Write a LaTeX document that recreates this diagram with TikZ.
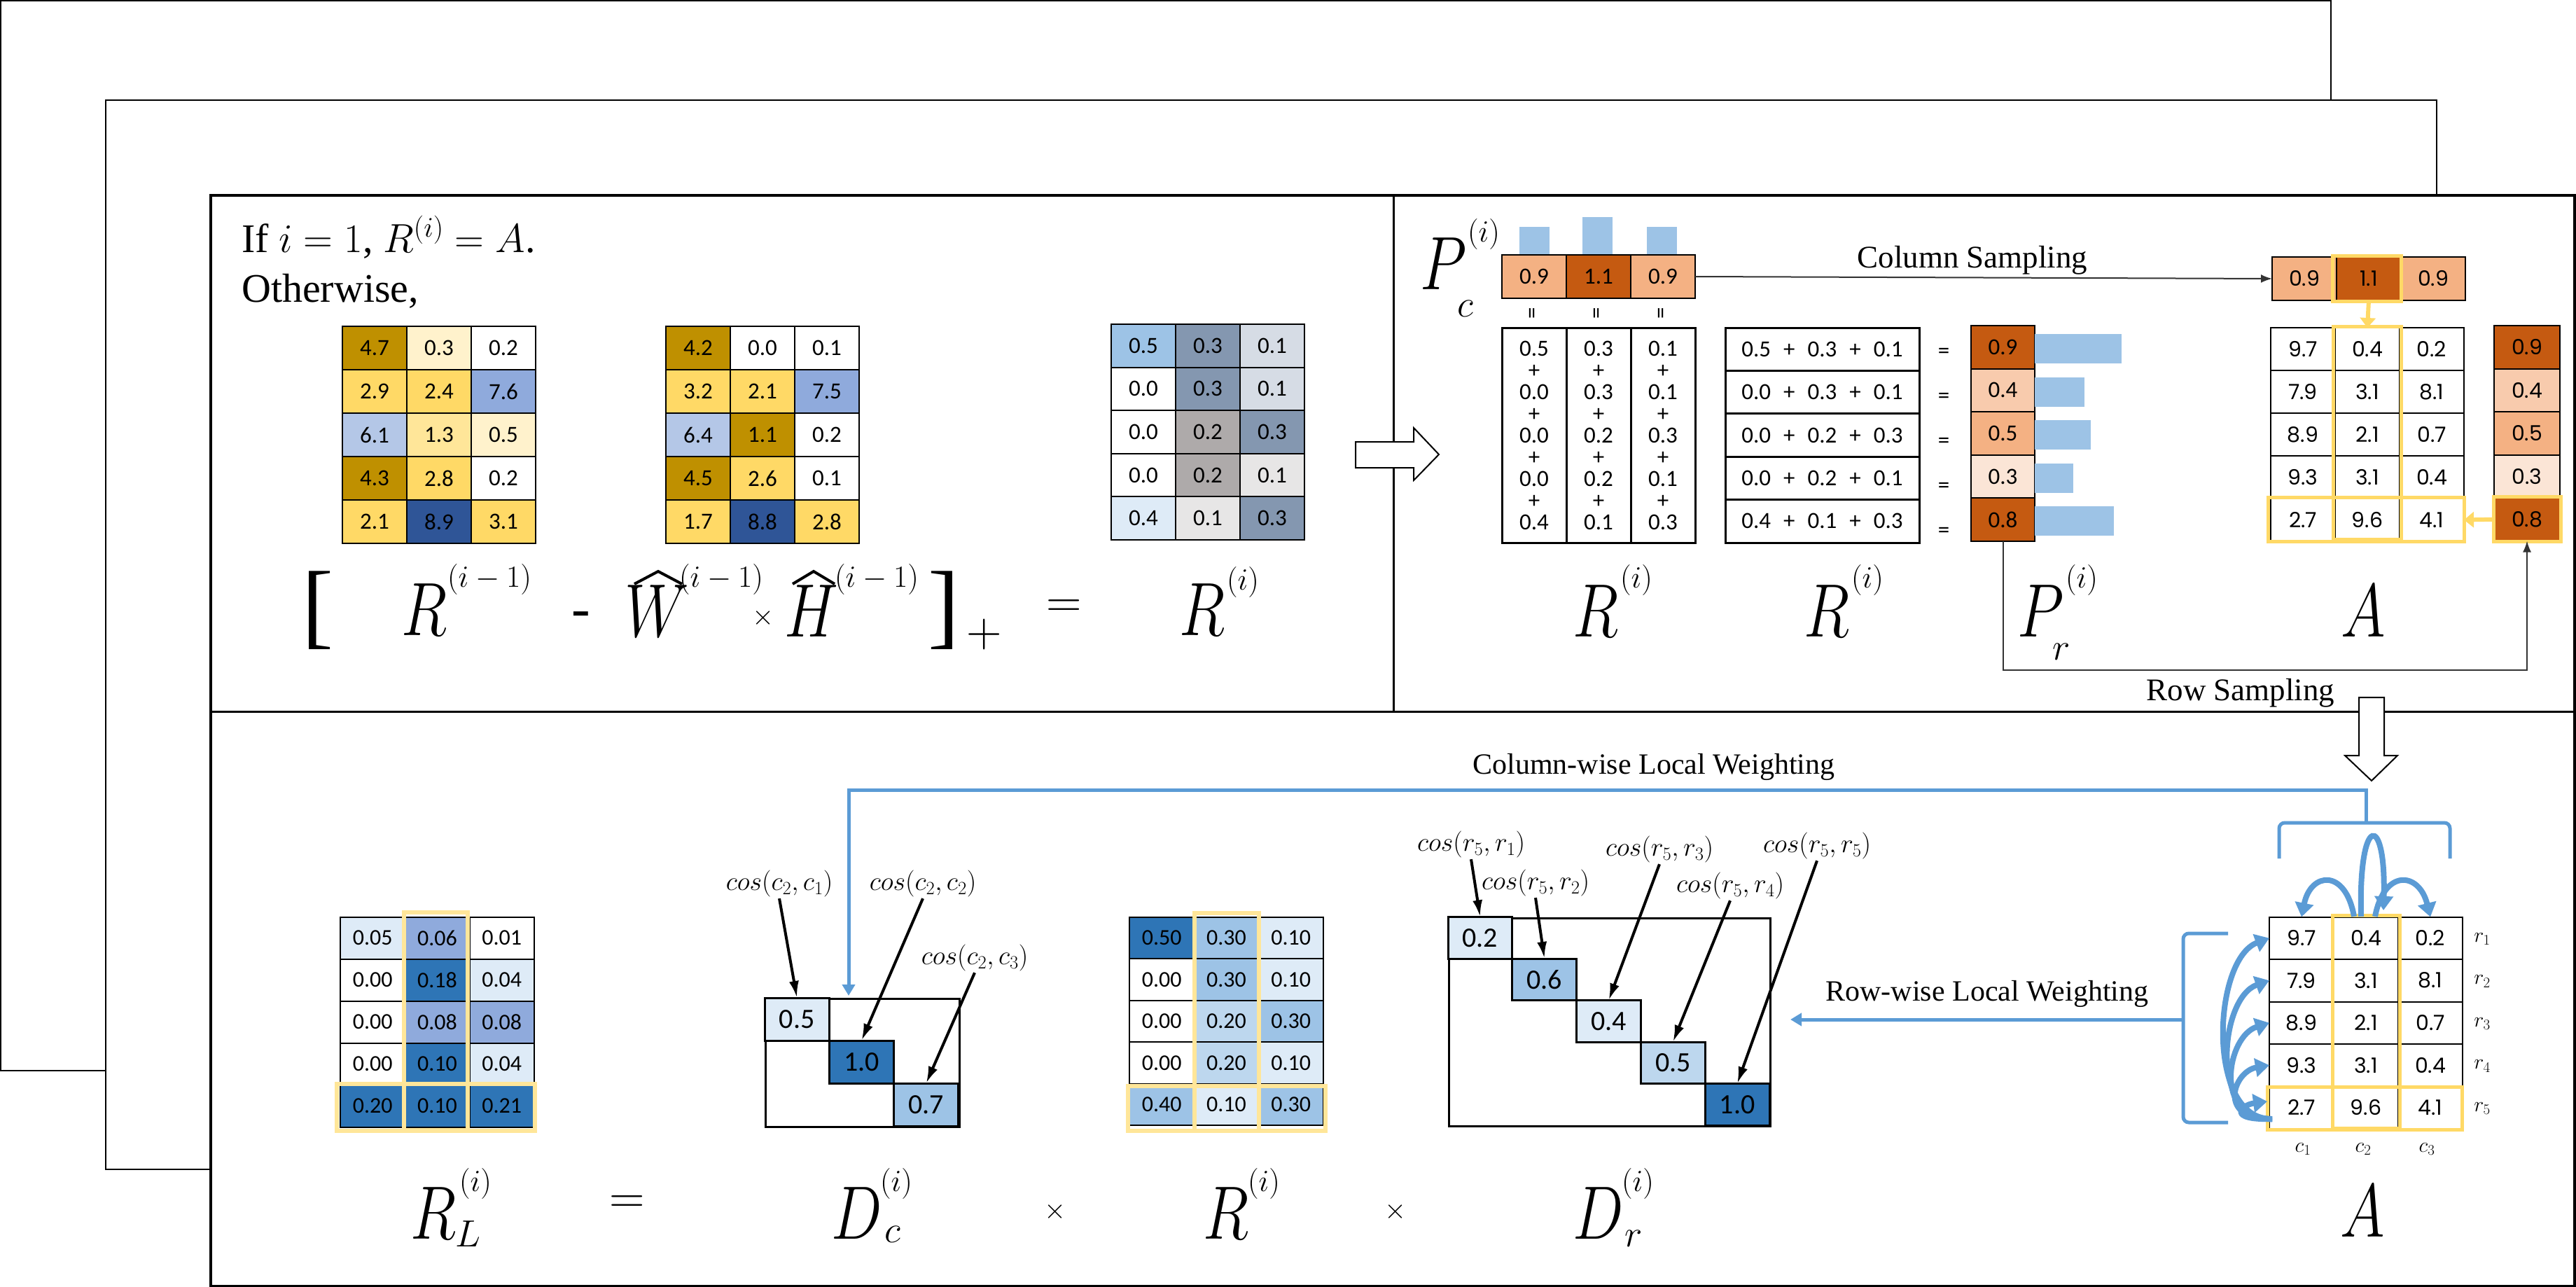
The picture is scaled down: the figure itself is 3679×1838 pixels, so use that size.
\RequirePackage{fix-cm}
\documentclass[tikz,border=0pt]{standalone}
\usepackage{fontspec}
\setmainfont{Liberation Serif}
\newfontfamily\calib{Carlito}
\newfontfamily\popp{Poppins}
\usetikzlibrary{arrows.meta}
\definecolor{cGold}{HTML}{BF9000}
\definecolor{cYel}{HTML}{FFD966}
\definecolor{cCream}{HTML}{FFF2CC}
\definecolor{cLYel}{HTML}{FFE699}
\definecolor{cBE}{HTML}{8FAADC}
\definecolor{cBF}{HTML}{B4C7E7}
\definecolor{cDB}{HTML}{2F5597}
\definecolor{cSky}{HTML}{9DC3E6}
\definecolor{cSlate}{HTML}{8497B0}
\definecolor{cGB}{HTML}{D6DCE5}
\definecolor{cGr}{HTML}{AEAAAA}
\definecolor{cLG}{HTML}{E7E6E6}
\definecolor{cPale}{HTML}{DEEBF7}
\definecolor{cMid}{HTML}{2E75B6}
\definecolor{cLight}{HTML}{BDD7EE}
\definecolor{cOa}{HTML}{F4B183}
\definecolor{cOb}{HTML}{C55A11}
\definecolor{cOc}{HTML}{F8CBAD}
\definecolor{cOd}{HTML}{FBE5D6}
\definecolor{cBL}{HTML}{5B9BD5}
\definecolor{cHL}{HTML}{FFD966}
\definecolor{cHLb}{HTML}{FFE699}
\newcommand{\calnum}{\calib\fontsize{33}{36}\selectfont}
\newcommand{\calbig}{\calib\fontsize{40}{44}\selectfont}
\newcommand{\popnum}{\popp\fontsize{30}{34}\selectfont}
\newcommand{\nx}[1]{\scalebox{0.8}[1]{$#1$}}
\newcommand{\cellgrid}[7]{%
  \foreach \r/\c/\f/\t in {#7} {%
    \node[cellbox, #6, minimum width=#4pt, minimum height=#5pt, fill=\f] (#1-\r-\c) at ({#2+(\c-1)*#4},{#3+(\r-1)*#5}) {\t};
  }}
\newcommand{\pls}{\hspace{18pt}+\hspace{18pt}}
\begin{document}
\begin{tikzpicture}[x=1pt,y=-1pt,
  cellbox/.style={draw=black, line width=2pt, inner sep=0pt, outer sep=0pt, anchor=north west},
  hl/.style={draw=cHL, line width=5pt},
  hlb/.style={draw=cHLb, line width=6pt},
  bigm/.style={font=\fontsize{108}{120}\selectfont, inner sep=0pt, anchor=base},
  supm/.style={font=\fontsize{44}{50}\selectfont, inner sep=0pt},
  subm/.style={font=\fontsize{54}{60}\selectfont, inner sep=0pt},
  opm/.style={font=\fontsize{70}{80}\selectfont, inner sep=0pt},
  lab/.style={font=\fontsize{45}{50}\selectfont, inner sep=0pt},
  wlab/.style={font=\fontsize{42}{48}\selectfont, inner sep=0pt},
  cosl/.style={font=\fontsize{38}{44}\selectfont, inner sep=2pt},
  cosarr/.style={line width=4pt, -{Latex[length=24pt,width=14pt]}},
  samp/.style={draw=black!80, line width=2pt},
  bl/.style={draw=cBL, line width=5pt},
  barrow/.style={draw=cBL, line width=8pt, -{Triangle[length=20pt,width=26pt]}},
  yarr/.style={draw=cHL, line width=6pt, -{Triangle[length=14pt,width=22pt]}},
  eqs/.style={font=\calnum, inner sep=0pt},
  hat/.style={line width=4pt, line join=miter},
]
\useasboundingbox (0,0) rectangle (3679,1838);
% stacked pages
\draw[line width=2pt, fill=white] (1,1) rectangle (3329,1529);
\draw[line width=2pt, fill=white] (151,143) rectangle (3480,1670);
\draw[line width=4pt, fill=white] (301,279) rectangle (3677,1837);
\draw[line width=3pt] (301,1016) -- (3677,1016);
\draw[line width=3pt] (1990,279) -- (1990,1016);

% ===== left panel =====
\node[anchor=base west, font=\fontsize{58}{70}\selectfont, inner sep=0pt] (iftext) at (345,360) {If $i=1$, $R^{(i)}=A$.};
\node[anchor=base west, font=\fontsize{58}{70}\selectfont, inner sep=0pt] (other) at (345,431) {Otherwise,};

\cellgrid{ma}{489}{466}{92}{62}{font=\calnum}{1/1/cGold/4.7, 1/2/cCream/0.3, 1/3/white/0.2,
 2/1/cYel/2.9, 2/2/cYel/2.4, 2/3/cBE/7.6,
 3/1/cBF/6.1, 3/2/cLYel/1.3, 3/3/cCream/0.5,
 4/1/cGold/4.3, 4/2/cYel/2.8, 4/3/white/0.2,
 5/1/cYel/2.1, 5/2/cDB/8.9, 5/3/cYel/3.1}
\cellgrid{mb}{951}{466}{92}{62}{font=\calnum}{1/1/cGold/4.2, 1/2/white/0.0, 1/3/white/0.1,
 2/1/cYel/3.2, 2/2/cYel/2.1, 2/3/cBE/7.5,
 3/1/cBF/6.4, 3/2/cGold/1.1, 3/3/white/0.2,
 4/1/cGold/4.5, 4/2/cYel/2.6, 4/3/white/0.1,
 5/1/cYel/1.7, 5/2/cDB/8.8, 5/3/cYel/2.8}
\cellgrid{mc}{1587}{463}{92}{61.6}{font=\calnum}{1/1/cSky/0.5, 1/2/cSlate/0.3, 1/3/cGB/0.1,
 2/1/white/0.0, 2/2/cSlate/0.3, 2/3/cGB/0.1,
 3/1/white/0.0, 3/2/cGr/0.2, 3/3/cSlate/0.3,
 4/1/white/0.0, 4/2/cGr/0.2, 4/3/cLG/0.1,
 5/1/cPale/0.4, 5/2/cLG/0.1, 5/3/cSlate/0.3}

\node[font=\fontsize{135}{140}\selectfont, inner sep=0pt] (lbr) at (454,872) {[};
\node[bigm] (ra) at (606,907) {\nx{R}};
\node[supm] (ras) at (699,827) {$(i-1)$};
\node[font=\fontsize{80}{90}\selectfont, inner sep=0pt, anchor=base] (minus) at (830,895) {-};
\node[bigm] (wh) at (938,909) {\nx{W}};
\draw[hat] (906,834) -- (940,816) -- (974,834);
\node[supm] (whs) at (1030,827) {$(i-1)$};
\node[font=\fontsize{40}{44}\selectfont, inner sep=0pt] (tm) at (1090,882) {$\times$};
\node[bigm] (hh) at (1159,909) {\nx{H}};
\draw[hat] (1132,834) -- (1162,816) -- (1192,834);
\node[supm] (hhs) at (1252,827) {$(i-1)$};
\node[font=\fontsize{135}{140}\selectfont, inner sep=0pt] (rbr) at (1348,872) {]};
\node[opm] (plus) at (1406,906) {$+$};
\node[opm] (eqa) at (1520,869) {$=$};
\node[bigm] (rb) at (1717,907) {\nx{R}};
\node[supm] (rbs) at (1775,831) {$(i)$};

% hollow right arrow
\draw[line width=2pt, fill=white] (1936,631) -- (2019,631) -- (2019,611) -- (2055,649) -- (2019,686) -- (2019,668) -- (1936,668) -- cycle;

% ===== right panel =====
\node[bigm] (pcP) at (2062,413) {\nx{P}};
\node[supm] (pcs) at (2119,335) {$(i)$};
\node[subm] (pcc) at (2093,441) {$c$};
\fill[cSky] (2170,324) rectangle (2213,364);
\fill[cSky] (2260,310) rectangle (2303,364);
\fill[cSky] (2352,324) rectangle (2395,364);
\cellgrid{pc}{2145}{364}{92}{62}{font=\calnum}{1/1/cOa/0.9, 1/2/cOb/1.1, 1/3/cOa/0.9}
\foreach \k/\xx in {1/2191,2/2283,3/2375}
  \node[eqs, rotate=90] (peq\k) at (\xx,447) {=};

% column sums
\foreach \k/\a/\b/\c/\d/\e in {1/0.5/0.0/0.0/0.0/0.4, 2/0.3/0.3/0.2/0.2/0.1, 3/0.1/0.1/0.3/0.1/0.3}
  \node[cellbox, line width=3pt, minimum width=92pt, minimum height=307pt, align=center,
        font=\calib\fontsize{33}{31}\selectfont] (csum\k) at ({2145+(\k-1)*92},468)
        {\a\\+\\\b\\+\\\c\\+\\\d\\+\\\e};
% row sums
\foreach \k/\t in {1/0.5\pls0.3\pls0.1, 2/0.0\pls0.3\pls0.1, 3/0.0\pls0.2\pls0.3, 4/0.0\pls0.2\pls0.1, 5/0.4\pls0.1\pls0.3}
  \node[cellbox, line width=3pt, minimum width=277pt, minimum height=61.4pt, font=\calnum] (rsum\k) at (2464,{468+(\k-1)*61.4}) {\t};
\foreach \k in {1,...,5}
  \node[eqs] (req\k) at (2776,{504+(\k-1)*64}) {=};
\cellgrid{pr}{2815}{465}{91}{61.6}{font=\calnum}{1/1/cOb/0.9, 2/1/cOc/0.4, 3/1/cOa/0.5, 4/1/cOd/0.3, 5/1/cOb/0.8}
\foreach \k/\w in {1/124,2/71,3/80,4/55,5/113}
  \fill[cSky] (2906,{477+(\k-1)*61.6}) rectangle ({2906+\w},{519+(\k-1)*61.6});

\node[bigm] (rcR) at (2279,909) {\nx{R}};
\node[supm] (rcs) at (2337,828) {$(i)$};
\node[bigm] (rrR) at (2609,909) {\nx{R}};
\node[supm] (rrs) at (2667,828) {$(i)$};
\node[bigm] (prP) at (2915,909) {\nx{P}};
\node[supm] (prs) at (2973,828) {$(i)$};
\node[subm] (prr) at (2944,931) {$r$};
\node[bigm] (aA) at (3375,909) {\nx{A}};

% sampled A
\cellgrid{ta}{3245}{367}{92}{62}{font=\popnum}{1/1/cOa/0.9, 1/2/cOb/1.1, 1/3/cOa/0.9}
\cellgrid{a}{3243}{468}{92}{61}{font=\popnum}{1/1/white/9.7, 1/2/white/0.4, 1/3/white/0.2,
 2/1/white/7.9, 2/2/white/3.1, 2/3/white/8.1,
 3/1/white/8.9, 3/2/white/2.1, 3/3/white/0.7,
 4/1/white/9.3, 4/2/white/3.1, 4/3/white/0.4,
 5/1/white/2.7, 5/2/white/9.6, 5/3/white/4.1}
\cellgrid{pa}{3562}{465}{94}{61.5}{font=\popnum}{1/1/cOb/0.9, 2/1/cOc/0.4, 3/1/cOa/0.5, 4/1/cOd/0.3, 5/1/cOb/0.8}
\draw[hl] (3331,365) rectangle (3429,430);
\draw[hl] (3332,466) rectangle (3429,770);
\draw[hl] (3239,710) rectangle (3519,773);
\draw[hl] (3561,709) rectangle (3657,773);
\draw[yarr] (ta-1-2.south) -- (a-1-2.north);
\draw[yarr] (pa-5-1.west) -- (a-5-3.east);

\node[lab] (colsamp) at (2817,372) {Column Sampling};
\draw[samp, -{Latex[length=16pt,width=12pt]}] (pc-1-3.east) -- (ta-1-1.west);
\coordinate (rsc) at (3200,957);
\draw[samp, -{Latex[length=16pt,width=12pt]}] (pr-5-1.south) |- (rsc) -| (pa-5-1.south);
\node[lab] (rowsamp) at (3200,990) {Row Sampling};

% hollow down arrow
\draw[line width=2pt, fill=white] (3369,996) -- (3405,996) -- (3405,1079) -- (3424,1079) -- (3387,1115) -- (3349,1079) -- (3369,1079) -- cycle;

% ===== bottom panel =====
\cellgrid{rl}{486}{1309.5}{92.3}{60}{font=\calib\fontsize{32}{36}\selectfont}{1/1/cPale/0.05, 1/2/cBE/0.06, 1/3/white/0.01,
 2/1/white/0.00, 2/2/cMid/0.18, 2/3/cPale/0.04,
 3/1/white/0.00, 3/2/cBE/0.08, 3/3/cBE/0.08,
 4/1/white/0.00, 4/2/cMid/0.10, 4/3/cPale/0.04,
 5/1/cMid/0.20, 5/2/cMid/0.10, 5/3/cMid/0.21}
\draw[hlb] (577,1303) rectangle (668,1614);
\draw[hlb] (481,1548) rectangle (764,1615);

\node[draw, line width=3pt, minimum width=277pt, minimum height=183pt, anchor=north west, inner sep=0pt] (dcbox) at (1092,1425) {};
\foreach \k/\f/\t in {1/cPale/0.5, 2/cMid/1.0, 3/cSky/0.7}
  \node[cellbox, line width=3pt, font=\calbig, minimum width=92.3pt, minimum height=61pt, fill=\f] (dc-\k-\k) at ({1092+(\k-1)*92.3},{1425+(\k-1)*61}) {\t};

\cellgrid{rm}{1613}{1309.5}{92.3}{59.5}{font=\calib\fontsize{32}{36}\selectfont}{1/1/cMid/0.50, 1/2/cSky/0.30, 1/3/cPale/0.10,
 2/1/white/0.00, 2/2/cSky/0.30, 2/3/cPale/0.10,
 3/1/white/0.00, 3/2/cLight/0.20, 3/3/cSky/0.30,
 4/1/white/0.00, 4/2/cLight/0.20, 4/3/cPale/0.10,
 5/1/cSky/0.40, 5/2/cPale/0.10, 5/3/cSky/0.30}
\draw[hlb] (1706,1304) rectangle (1798,1615);
\draw[hlb] (1611,1551) rectangle (1893,1615);

\node[draw, line width=3pt, minimum width=459pt, minimum height=297.5pt, anchor=north west, inner sep=0pt] (drbox) at (2068,1309.5) {};
\foreach \k/\f/\t in {1/cPale/0.2, 2/cSky/0.6, 3/cPale/0.4, 4/cLight/0.5, 5/cMid/1.0}
  \node[cellbox, line width=3pt, font=\calbig, minimum width=91.8pt, minimum height=59.5pt, fill=\f] (dr-\k-\k) at ({2068+(\k-1)*91.8},{1309.5+(\k-1)*59.5}) {\t};

% cos labels
\node[cosl] (cc1) at (1113,1262) {$cos(c_2,c_1)$};
\node[cosl] (cc2) at (1318,1262) {$cos(c_2,c_2)$};
\node[cosl] (cc3) at (1392,1368) {$cos(c_2,c_3)$};
\draw[cosarr] (cc1.south) -- (dc-1-1.north);
\draw[cosarr] (cc2.south) -- (dc-2-2.north);
\draw[cosarr] (cc3.south) -- (dc-3-3.north);
\node[cosl] (cr1) at (2101,1206) {$cos(r_5,r_1)$};
\node[cosl] (cr2) at (2193,1261) {$cos(r_5,r_2)$};
\node[cosl] (cr3) at (2370,1213) {$cos(r_5,r_3)$};
\node[cosl] (cr4) at (2471,1265) {$cos(r_5,r_4)$};
\node[cosl] (cr5) at (2595,1208) {$cos(r_5,r_5)$};
\draw[cosarr] (cr1.south) -- (dr-1-1.north);
\draw[cosarr] (cr2.south) -- (dr-2-2.north);
\draw[cosarr] (cr3.south) -- (dr-3-3.north);
\draw[cosarr] (cr4.south) -- (dr-4-4.north);
\draw[cosarr] (cr5.south) -- (dr-5-5.north);

% bottom A
\cellgrid{ab}{3241}{1309.5}{92}{60.5}{font=\popnum}{1/1/white/9.7, 1/2/white/0.4, 1/3/white/0.2,
 2/1/white/7.9, 2/2/white/3.1, 2/3/white/8.1,
 3/1/white/8.9, 3/2/white/2.1, 3/3/white/0.7,
 4/1/white/9.3, 4/2/white/3.1, 4/3/white/0.4,
 5/1/white/2.7, 5/2/white/9.6, 5/3/white/4.1}
\draw[hl] (3331,1307) rectangle (3427,1611);
\draw[hl] (3238,1552) rectangle (3516,1613);
\foreach \k in {1,...,5}
  \node[font=\fontsize{30}{34}\selectfont, inner sep=0pt] (rlab\k) at (3545,{1341+(\k-1)*60.5}) {$r_{\k}$};
\foreach \k/\xx in {1/3289,2/3375,3/3466}
  \node[font=\fontsize{30}{34}\selectfont, inner sep=0pt] (clab\k) at (\xx,1641) {$c_{\k}$};

% curved blue arrows on A
\draw[barrow] (3372,1309) .. controls (3368,1160) and (3408,1160) .. (3404,1300);
\draw[barrow] (3362,1309) .. controls (3350,1240) and (3300,1245) .. (ab-1-1.north);
\draw[barrow] (3392,1309) .. controls (3405,1240) and (3455,1245) .. (ab-1-3.north);
\coordinate (rstart) at (3245,1598);
\coordinate (rfive) at (3238,1573);
\draw[barrow] (rstart) .. controls (3150,1600) and (3160,1370) .. (ab-1-1.west);
\draw[barrow] (rstart) .. controls (3155,1600) and (3170,1425) .. (ab-2-1.west);
\draw[barrow] (rstart) .. controls (3160,1600) and (3180,1480) .. (ab-3-1.west);
\draw[barrow] (rstart) .. controls (3165,1600) and (3190,1530) .. (ab-4-1.west);
\draw[barrow] (rstart) .. controls (3180,1600) and (3200,1578) .. (rfive);

% blue weighting connectors
\draw[bl, rounded corners=8pt] (3255,1226) -- (3255,1175) -- (3499,1175) -- (3499,1226);
\coordinate (cbrk) at (3379,1175);
\coordinate (cwturn) at (1212,1128);
\coordinate (dcin) at (1212,1422);
\draw[bl, -{Triangle[length=16pt,width=18pt]}] (cbrk) |- (cwturn) -- (dcin);
\node[wlab] (cwlab) at (2362,1095) {Column-wise Local Weighting};
\draw[bl, rounded corners=8pt] (3182,1333) -- (3118,1333) -- (3118,1603) -- (3182,1603);
\coordinate (rbrk) at (3118,1456);
\coordinate (rwend) at (2557,1456);
\draw[bl, -{Triangle[length=16pt,width=18pt]}] (rbrk) -- (rwend);
\node[wlab] (rwlab) at (2838,1419) {Row-wise Local Weighting};

% bottom formula labels
\node[bigm] (rlR) at (619,1769) {\nx{R}};
\node[supm] (rls) at (679,1690) {$(i)$};
\node[subm] (rlL) at (668,1762) {$L$};
\node[opm] (eqb) at (896,1720) {$=$};
\node[bigm] (dcD) at (1224,1769) {\nx{D}};
\node[supm] (dcs) at (1280,1690) {$(i)$};
\node[subm] (dcc) at (1275,1763) {$c$};
\node[font=\fontsize{40}{44}\selectfont, inner sep=0pt] (tmb) at (1507,1730) {$\times$};
\node[bigm] (rmR) at (1751,1769) {\nx{R}};
\node[supm] (rms) at (1805,1690) {$(i)$};
\node[font=\fontsize{40}{44}\selectfont, inner sep=0pt] (tmc) at (1993,1730) {$\times$};
\node[bigm] (drD) at (2283,1769) {\nx{D}};
\node[supm] (drs) at (2339,1690) {$(i)$};
\node[subm] (drr) at (2333,1769) {$r$};
\node[bigm] (aB) at (3374,1766) {\nx{A}};
\end{tikzpicture}
\end{document}
